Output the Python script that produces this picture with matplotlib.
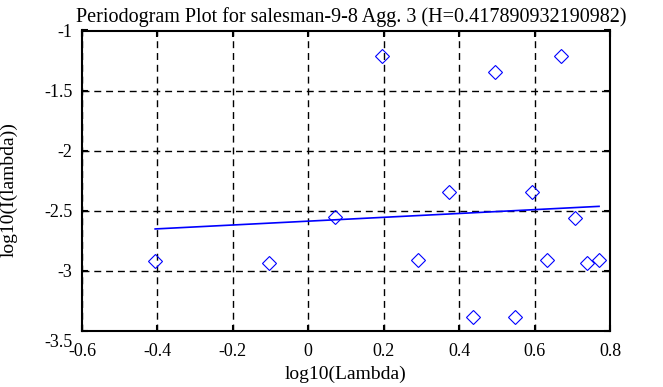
import numpy as np
import matplotlib
matplotlib.use('Agg')
import matplotlib.pyplot as plt
import matplotlib.transforms as mtransforms

# periodogram points (log10 frequency, log10 power)
log_lambda = [-0.406, -0.105, 0.071, 0.196, 0.292, 0.372, 0.438, 0.496,
              0.547, 0.594, 0.634, 0.671, 0.707, 0.740, 0.771]
log_power = [-2.914, -2.937, -2.555, -1.209, -2.909, -2.341, -3.382, -1.347,
             -3.382, -2.341, -2.912, -1.209, -2.557, -2.937, -2.912]

# least squares fit line end points
fit_x = [-0.406, 0.771]
fit_y = [-2.651, -2.463]

xtick_labels = ['-0.6', '-0.4', '-0.2', '0', '0.2', '0.4', '0.6', '0.8']
ytick_labels = ['-3.5', '-3', '-2.5', '-2', '-1.5', '-1']

plt.rcParams['font.family'] = ['Liberation Serif', 'DejaVu Serif']

fig = plt.figure(figsize=(6.63, 3.87), dpi=100)
ax = fig.add_axes([82/663, 1 - 331/387, 528/663, 300.5/387])

ax.plot(log_lambda, log_power, 'D', ms=7.2, mfc='none', mec='blue', mew=0.8)
ax.plot(fit_x, fit_y, '-', color='blue', lw=1.2)

ax.set_xlim(-0.6, 0.8)
ax.set_ylim(-3.5, -1)
ax.set_xticks(np.arange(-0.6, 0.81, 0.2))
ax.set_yticks(np.arange(-3.5, -0.99, 0.5))
ax.set_xticklabels(xtick_labels)
ax.set_yticklabels(ytick_labels)

ax.grid(True, color='black', linestyle=(0, (5, 3.5)), linewidth=1)
ax.tick_params(direction='in', top=True, right=True, length=4, width=1.5,
               labelsize=13)
ax.tick_params(axis='x', pad=8.5)
ax.tick_params(axis='y', pad=7)
for s in ax.spines.values():
    s.set_linewidth(1.5)

# bottom y label sits lower, as in the original
lab = ax.get_yticklabels()[0]
lab.set_transform(lab.get_transform() +
                  mtransforms.ScaledTranslation(0, -10/100, fig.dpi_scale_trans))

ax.set_title('Periodogram Plot for salesman-9-8 Agg. 3 (H=0.417890932190982)',
             fontsize=14.5, pad=6, x=0.51)
ax.set_xlabel('log10(Lambda)', fontsize=14, labelpad=4)
ax.set_ylabel('log10(I(lambda))', fontsize=14)
ax.yaxis.set_label_coords(-0.122, 0.47)

fig.savefig('out.png', dpi=100)
